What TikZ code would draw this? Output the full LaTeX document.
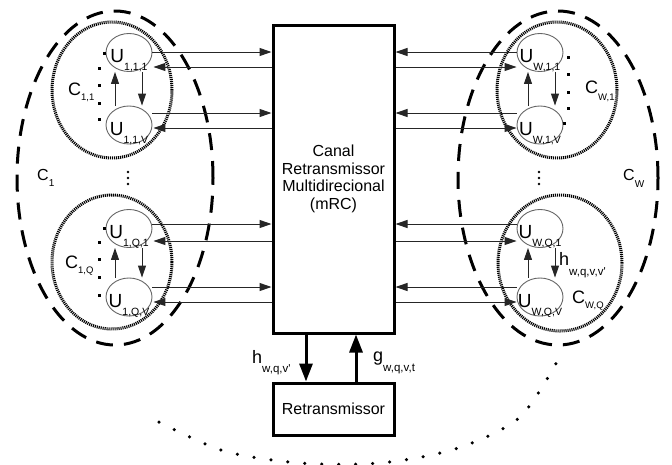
\documentclass[tikz,border=0pt]{standalone}
\usepackage{fontspec}
\setmainfont{Liberation Sans}
\usetikzlibrary{shapes.geometric,arrows.meta,calc}
\newcommand{\lsub}[3]{\raisebox{-#1pt}{\fontsize{#2}{#2}\selectfont #3}}
\newcommand{\ulab}[2]{\makebox[0pt]{U\lsub{8}{10.5}{#2}}}
\begin{document}
\begin{tikzpicture}[x=1pt,y=-1pt,
  ubox/.style={ellipse, draw=black!60, line width=0.9pt, minimum width=46pt, minimum height=38pt,
    inner sep=0pt, text height=20pt, text depth=0pt, font=\fontsize{19}{19}\selectfont},
  clus/.style={ellipse, draw, line width=3pt, dash pattern=on 1.1pt off 0.9pt, inner sep=0pt},
  bigclus/.style={ellipse, draw, line width=3pt, dash pattern=on 17pt off 11pt, inner sep=0pt},
  arr/.style={draw=black!85, line width=1pt, -{Triangle[length=12pt,width=8pt]}},
  tarr/.style={line width=3pt, -{Triangle[length=18pt,width=13pt]}},
  lbl/.style={inner sep=0pt, anchor=base west},
  bigC/.style={lbl, font=\fontsize{18}{18}\selectfont},
  smallC/.style={lbl, font=\fontsize{16}{16}\selectfont}
]
\useasboundingbox (0,0) rectangle (672,464);

% big clusters
\node[bigclus, minimum width=196pt, minimum height=334pt] (C1) at (115,178) {};
\node[bigclus, minimum width=200pt, minimum height=334pt] (CW) at (558,178) {};

% sub-clusters
\node[clus, minimum width=120pt, minimum height=136pt] (C11) at (112,90) {};
\node[clus, minimum width=120pt, minimum height=134pt] (C1Q) at (112,262) {};
\node[clus, minimum width=120pt, minimum height=136pt] (CW1) at (557,90) {};
\node[clus, minimum width=124pt, minimum height=136pt] (CWQ) at (560,263) {};

% central boxes
\node[draw, line width=3pt, minimum width=121pt, minimum height=308pt, inner sep=0pt, align=center,
  font=\fontsize{16}{17.7}\selectfont] (box) at (333.5,179) {Canal\\Retransmissor\\Multidirecional\\(mRC)};
\node[draw, line width=3pt, minimum width=121pt, minimum height=52pt, inner sep=0pt,
  font=\fontsize{16}{16}\selectfont] (ret) at (333.5,409) {Retransmissor};

% user nodes
\node[ubox] (u111) at (129,52.5) {\ulab{}{1,1,1}};
\node[ubox] (u11v) at (129,125) {\ulab{}{1,1,V}};
\node[ubox] (u1q1) at (129,228.5) {\ulab{}{1,Q,1}};
\node[ubox] (u1qv) at (129,297) {\ulab{}{1,Q,V}};
\node[ubox] (uw11) at (540,52.5) {\ulab{}{W,1,1}};
\node[ubox] (uw1v) at (540,125) {\ulab{}{W,1,V}};
\node[ubox] (uwq1) at (540,228.5) {\ulab{}{W,Q,1}};
\node[ubox] (uwqv) at (540,297) {\ulab{}{W,Q,V}};

% left horizontal arrows
\draw[arr] (u111.east |- 0,52) -- (box.west |- 0,52);
\draw[arr, shorten >=1pt] (box.west |- 0,67) -- (u111.east |- 0,67);
\draw[arr] (u11v.east |- 0,113) -- (box.west |- 0,113);
\draw[arr, shorten >=1pt] (box.west |- 0,128) -- (u11v.east |- 0,128);
\draw[arr] (u1q1.east |- 0,224) -- (box.west |- 0,224);
\draw[arr, shorten >=1pt] (box.west |- 0,241) -- (u1q1.east |- 0,241);
\draw[arr] (u1qv.east |- 0,287) -- (box.west |- 0,287);
\draw[arr, shorten >=1pt] (box.west |- 0,302) -- (u1qv.east |- 0,302);

% right horizontal arrows
\draw[arr] (uw11.west |- 0,52) -- (box.east |- 0,52);
\draw[arr] (box.east |- 0,67) -- (uw11.west |- 0,67);
\draw[arr] (uw1v.west |- 0,113) -- (box.east |- 0,113);
\draw[arr] (box.east |- 0,128) -- (uw1v.west |- 0,128);
\draw[arr] (uwq1.west |- 0,224) -- (box.east |- 0,224);
\draw[arr] (box.east |- 0,241) -- (uwq1.west |- 0,241);
\draw[arr] (uwqv.west |- 0,287) -- (box.east |- 0,287);
\draw[arr] (box.east |- 0,302) -- (uwqv.west |- 0,302);

% internal vertical arrows
\draw[arr] ($(u11v.north)+(-14,0)$) -- ($(u111.south)+(-14,0)$);
\draw[arr] ($(u111.south)+(13,0)$) -- ($(u11v.north)+(13,0)$);
\draw[arr] ($(u1qv.north)+(-14,0)$) -- ($(u1q1.south)+(-14,0)$);
\draw[arr] ($(u1q1.south)+(13,0)$) -- ($(u1qv.north)+(13,0)$);
\draw[arr] ($(uw1v.north)+(-12,0)$) -- ($(uw11.south)+(-12,0)$);
\draw[arr] ($(uw11.south)+(15,0)$) -- ($(uw1v.north)+(15,0)$);
\draw[arr] ($(uwqv.north)+(-12,0)$) -- ($(uwq1.south)+(-12,0)$);
\draw[arr] ($(uwq1.south)+(15,0)$) -- ($(uwqv.north)+(15,0)$);

% thick arrows
\draw[tarr] (box.south -| 306,0) -- (ret.north -| 306,0);
\draw[tarr] (ret.north -| 356,0) -- (box.south -| 356,0);

% labels
\node[bigC] (hl) at (252,363) {h\lsub{9}{11.5}{w,q,v\textquotesingle}};
\node[bigC] (gl) at (373,361) {g\lsub{10}{11.5}{w,q,v,t}};
\node[bigC] (hr) at (559,265) {h\lsub{10}{11.5}{w,q,v,v\textquotesingle}};
\node[bigC] (c11l) at (68,95) {C\lsub{5}{9.5}{1,1}};
\node[bigC] (c1ql) at (65,268) {C\lsub{5}{9.5}{1,Q}};
\node[bigC] (cw1l) at (585,93) {C\lsub{7}{9.5}{W,1}};
\node[bigC] (cwql) at (572,303) {C\lsub{5}{9.5}{W,Q}};
\node[smallC] (c1l) at (37,180) {C\lsub{6}{10}{1}};
\node[smallC] (cwl) at (623,180) {C\lsub{7}{10}{W}};

% dot columns
\foreach \p in {(104,53),(99,68),(99,85),(99,103),(99,119),
                (104,228),(99,242),(99,259),(99,277),(99,295),
                (568,57),(568,74),(568,92),(568,108),(564,123)}
  \fill \p ++(-1.5,-1.5) rectangle ++(3,3);
% vertical ellipsis
\foreach \yy in {172,178,184} {
  \fill (128,\yy) circle[radius=1.4];
  \fill (539,\yy) circle[radius=1.4];
}

% dotted arc linking the groups
\draw[line width=3.5pt, line cap=round, dash pattern=on 0pt off 17pt]
  plot[smooth] coordinates {(159,422) (224,451) (300,463) (380,463) (455,449) (519,418) (558,360)};
\end{tikzpicture}
\end{document}
